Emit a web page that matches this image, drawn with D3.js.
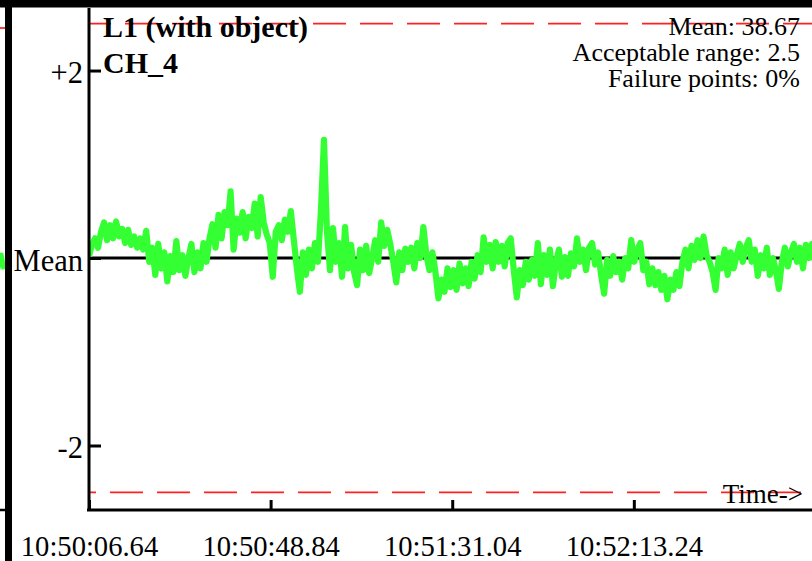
<!DOCTYPE html>
<html><head><meta charset="utf-8">
<script src="https://cdn.jsdelivr.net/npm/d3@7"></script>
<style>body{margin:0;background:#fff;overflow:hidden} svg{display:block}</style>
</head><body>
<svg id="c" width="812" height="561"></svg>
<script>
// ---- data ----
const title = "L1 (with object)";
const channel = "CH_4";
const meanValue = 38.67;
const acceptableRange = 2.5;
const failurePoints = "0%";
const yTickValues = [2, 0, -2];
const yTickLabels = ["+2", "Mean", "-2"];
const xTickSeconds = [0, 42.2, 84.4, 126.6];
const xTickLabels = ["10:50:06.64", "10:50:48.84", "10:51:31.04", "10:52:13.24"];
const sampleInterval = 0.7; // seconds between samples
// deviation from the mean, in chart units
const deviation = [
 0.02,0.14,0.21,0.11,0.28,0.38,0.19,0.35,0.21,0.39,0.23,0.31,0.16,0.30,0.14,0.23,0.11,0.21,0.09,0.29,
 -0.04,0.11,-0.18,0.15,-0.11,0.06,-0.25,0.02,-0.15,0.18,-0.13,0.03,-0.19,0.00,0.15,-0.15,0.06,-0.11,0.16,-0.04,
 0.21,0.36,0.11,0.46,0.21,0.49,0.35,0.71,0.09,0.42,0.27,0.49,0.21,0.44,0.32,0.58,0.23,0.65,0.38,0.25,
 0.16,-0.20,0.28,0.35,0.19,0.41,0.28,0.50,0.19,-0.11,-0.36,0.06,-0.18,0.09,-0.11,0.16,-0.04,0.51,1.26,0.28,
 -0.13,0.32,-0.04,0.16,-0.20,0.33,-0.11,0.14,-0.15,-0.29,0.09,-0.13,0.13,-0.16,0.00,0.19,-0.04,0.38,0.13,0.30,
 0.15,-0.04,-0.26,0.06,-0.13,0.10,-0.04,0.11,-0.11,0.16,0.00,0.33,0.03,-0.13,0.06,-0.15,-0.43,-0.23,-0.36,-0.11,
 -0.31,-0.13,-0.34,-0.06,-0.27,-0.11,-0.30,-0.04,-0.22,0.03,-0.15,0.22,-0.04,0.14,-0.11,0.17,-0.04,0.13,-0.09,0.16,
 0.21,-0.13,-0.42,-0.13,-0.29,-0.04,-0.23,-0.02,-0.19,0.16,-0.28,0.03,-0.18,0.09,-0.30,-0.04,0.09,-0.20,0.01,-0.19,
 0.05,-0.09,0.21,-0.04,0.09,-0.13,0.11,0.16,-0.07,0.06,-0.18,-0.38,-0.02,-0.19,0.02,-0.15,-0.04,-0.23,0.00,-0.11,
 0.19,-0.04,0.09,0.16,-0.13,-0.04,-0.28,-0.11,-0.29,-0.15,-0.34,-0.19,-0.44,-0.23,-0.34,-0.15,-0.30,-0.04,0.09,-0.11,
 0.13,-0.02,0.19,0.00,0.23,0.03,-0.04,-0.15,-0.34,0.00,-0.11,0.09,-0.18,0.06,-0.11,0.03,0.15,-0.04,0.11,0.19,
 -0.04,0.09,-0.19,0.03,-0.11,0.11,-0.18,0.00,-0.13,-0.33,-0.04,0.11,-0.09,0.06,0.15,-0.04,0.11,-0.11,0.14,0.00,
 0.15,-0.04
];
// tail of the neighbouring (previous) panel that shows at the far left
const prevDeviation = [0.10, 0.22, -0.14, 0.05, -0.12];

// ---- layout ----
const svg = d3.select("#c");
const W = 812, H = 561;
const plotLeft = 89, plotTop = 8, plotBottom = 510, plotRight = 812;
const serif = "'Liberation Serif','Times New Roman',Times,serif";

const x = d3.scaleLinear().domain([0, 168.0]).range([plotLeft, plotRight]);
const y = d3.scaleLinear().domain([-2.688, 2.667]).range([plotBottom, plotTop]);

svg.append("rect").attr("width", W).attr("height", H).attr("fill", "#fff");

// previous panel fragment (left of thick frame)
const prev = svg.append("g");
prev.append("clipPath").attr("id", "pclip").append("rect").attr("x", 0).attr("y", 0).attr("width", 5).attr("height", H);
const pg = prev.append("g").attr("clip-path", "url(#pclip)");
const px = d3.scaleLinear().domain([0, prevDeviation.length - 1]).range([-9, 4]);
pg.append("path").datum(prevDeviation)
  .attr("d", d3.line().x((d, i) => px(i)).y(d => y(d)))
  .attr("fill", "none").attr("stroke", "#33ff33").attr("stroke-width", 5);
pg.append("line").attr("x1", 0).attr("x2", 5).attr("y1", 28).attr("y2", 28)
  .attr("stroke", "red").attr("stroke-width", 1.5);
pg.append("line").attr("x1", 0).attr("x2", 5).attr("y1", plotBottom).attr("y2", plotBottom)
  .attr("stroke", "#000").attr("stroke-width", 2.5);

// clip for plot
svg.append("clipPath").attr("id", "clip").append("rect")
  .attr("x", plotLeft).attr("y", plotTop).attr("width", plotRight - plotLeft).attr("height", plotBottom - plotTop);

// acceptable range lines
const rangeLines = [acceptableRange, -acceptableRange];
const offsets = [11, 26];
svg.selectAll("line.range").data(rangeLines).enter().append("line")
  .attr("class", "range")
  .attr("x1", plotLeft).attr("x2", plotRight)
  .attr("y1", d => y(d)).attr("y2", d => y(d))
  .attr("stroke", "#ff2020").attr("stroke-width", 1.8)
  .attr("stroke-dasharray", "33,14")
  .attr("stroke-dashoffset", (d, i) => offsets[i]);

// mean line
svg.append("line").attr("x1", plotLeft).attr("x2", plotRight)
  .attr("y1", y(0)).attr("y2", y(0))
  .attr("stroke", "#000").attr("stroke-width", 3);

// data line
svg.append("path").datum(deviation)
  .attr("clip-path", "url(#clip)")
  .attr("d", d3.line().x((d, i) => x(i * sampleInterval)).y(d => y(d)))
  .attr("fill", "none").attr("stroke", "#33ff33").attr("stroke-width", 6.2)
  .attr("stroke-linejoin", "round").attr("stroke-linecap", "round");

// axes
const xAxis = d3.axisBottom(x).tickValues(xTickSeconds)
  .tickFormat((d, i) => xTickLabels[i]).tickSize(-10).tickPadding(26);
const gx = svg.append("g").attr("transform", `translate(0,${plotBottom})`).call(xAxis);
gx.select(".domain").attr("d", `M${plotLeft - 2},0H${plotRight}`).attr("stroke-width", 3);
gx.selectAll(".tick line").attr("stroke-width", 3);
gx.selectAll("text").attr("font-family", serif).attr("font-size", 28.6).attr("fill", "#000");

const yAxis = d3.axisLeft(y).tickValues(yTickValues)
  .tickFormat((d, i) => yTickLabels[i]).tickSize(-12).tickPadding(6);
const gy = svg.append("g").attr("transform", `translate(${plotLeft},0)`).call(yAxis);
gy.select(".domain").attr("d", `M0,${plotTop}V${plotBottom + 1}`).attr("stroke-width", 3);
gy.selectAll(".tick line").attr("stroke-width", 3);
gy.selectAll("text").attr("font-family", serif).attr("font-size", 30.5).attr("dy", "0.4em").attr("fill", "#000");

// thick frame
svg.append("rect").attr("x", 5).attr("y", 0).attr("width", 7).attr("height", H).attr("fill", "#000");
svg.append("rect").attr("x", 0).attr("y", 0).attr("width", W).attr("height", 7.5).attr("fill", "#000");

// titles
svg.append("text").attr("x", 103).attr("y", 37).text(title)
  .attr("font-family", serif).attr("font-size", 30).attr("font-weight", "bold");
svg.append("text").attr("x", 103).attr("y", 73).text(channel)
  .attr("font-family", serif).attr("font-size", 30).attr("font-weight", "bold");

// stats
const stats = [`Mean: ${meanValue.toFixed(2)}`, `Acceptable range: ${acceptableRange}`, `Failure points: ${failurePoints}`];
svg.selectAll("text.stat").data(stats).enter().append("text")
  .attr("class", "stat").attr("x", 800).attr("y", (d, i) => 35 + i * 26)
  .attr("text-anchor", "end").attr("font-family", serif).attr("font-size", 26).text(d => d);

svg.append("text").attr("x", 803).attr("y", 503).attr("text-anchor", "end")
  .attr("font-family", serif).attr("font-size", 27).text("Time->");
</script>
</body></html>
